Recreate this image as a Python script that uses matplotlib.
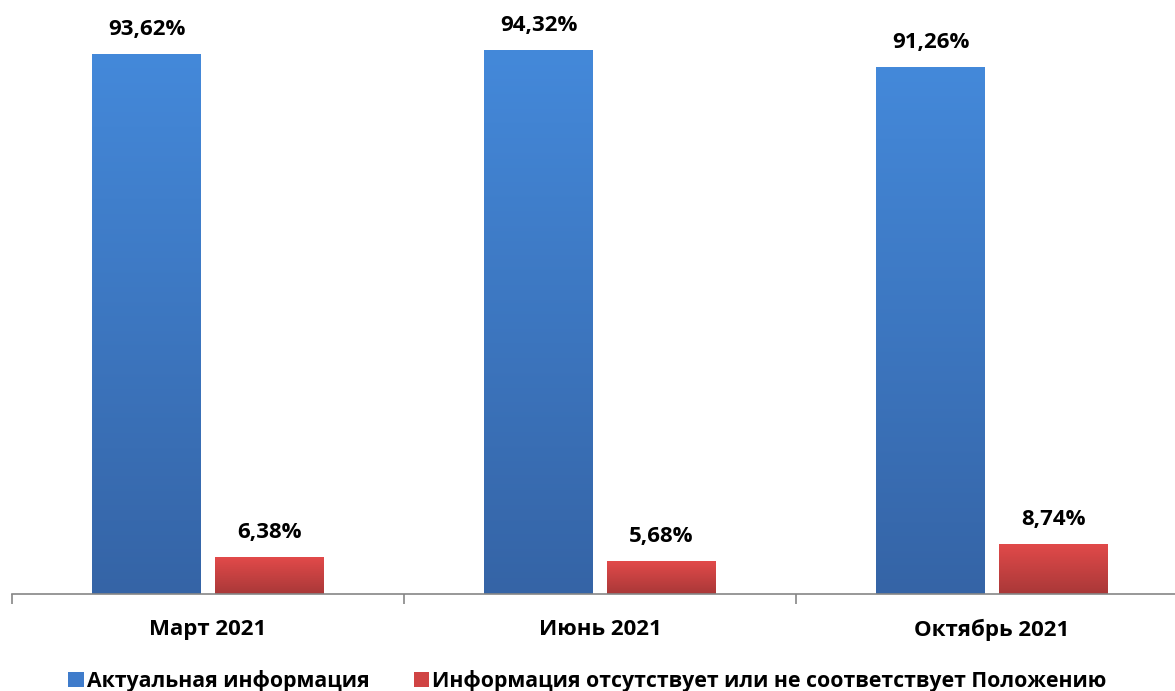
import numpy as np
import matplotlib.pyplot as plt
from matplotlib.colors import LinearSegmentedColormap
from matplotlib.patches import Patch

# data
months = ['Март 2021', 'Июнь 2021', 'Октябрь 2021']
actual = [93.62, 94.32, 91.26]
missing = [6.38, 5.68, 8.74]
series_names = ['Актуальная информация',
                'Информация отсутствует или не соответствует Положению']

plt.rcParams['font.family'] = ['Open Sans', 'DejaVu Sans']

fig = plt.figure(figsize=(11.75, 6.91), dpi=100)
# the category axis runs a little past the right edge of the picture
ax = fig.add_axes([12/1175, 97/691, 1176/1175, 594/691])

width = 0.278
off = 0.1565
x = np.arange(len(months))

blue_cm = LinearSegmentedColormap.from_list('b', ['#3564a6', '#4489da'])
red_cm = LinearSegmentedColormap.from_list('r', ['#a93838', '#e24a4a'])

grad = np.linspace(0, 1, 256).reshape(-1, 1)

def gradient_bars(xs, vals, cmap):
    bars = ax.bar(xs, vals, width, color='none', edgecolor='none')
    for b in bars:
        x0, y0 = b.get_x(), b.get_y()
        im = ax.imshow(grad, cmap=cmap, origin='lower', aspect='auto',
                       extent=[x0, x0 + b.get_width(), y0, y0 + b.get_height()],
                       zorder=2)
        im.set_clip_path(b)
    return bars

b1 = gradient_bars(x - off, actual, blue_cm)
b2 = gradient_bars(x + off, missing, red_cm)

for xs, vals in [(x - off, actual), (x + off, missing)]:
    for xi, v in zip(xs, vals):
        ax.annotate(('%.2f%%' % v).replace('.', ','), (xi, v), xytext=(0, 17.5),
                    textcoords='offset points', ha='center', va='center',
                    fontsize=16, fontweight='bold')

ax.set_xlim(-0.5, 2.5)
ax.set_ylim(0, 102.9)
for s in ['top', 'right', 'left']:
    ax.spines[s].set_visible(False)
ax.spines['bottom'].set_color('#868686')
ax.spines['bottom'].set_linewidth(1.2)
ax.set_yticks([])

ax.set_xticks([-0.5, 0.5, 1.5, 2.5])
ax.set_xticklabels([])
ax.tick_params(axis='x', which='major', length=7, color='#868686', width=1.2)
ax.set_xticks(x, minor=True)
ax.set_xticklabels(months, minor=True, fontsize=16, fontweight='bold')
ax.tick_params(axis='x', which='minor', length=0, pad=18)

handles = [Patch(facecolor='#3f7ccb'), Patch(facecolor='#d04444')]
fig.legend(handles, series_names, loc='center', bbox_to_anchor=(0.5, 0.014),
           ncol=2, frameon=False, handlelength=0.72, handleheight=0.72,
           handletextpad=0.15, columnspacing=2.1, borderpad=0,
           prop={'weight': 'bold', 'size': 15.3})

fig.savefig('out.png', dpi=100)
